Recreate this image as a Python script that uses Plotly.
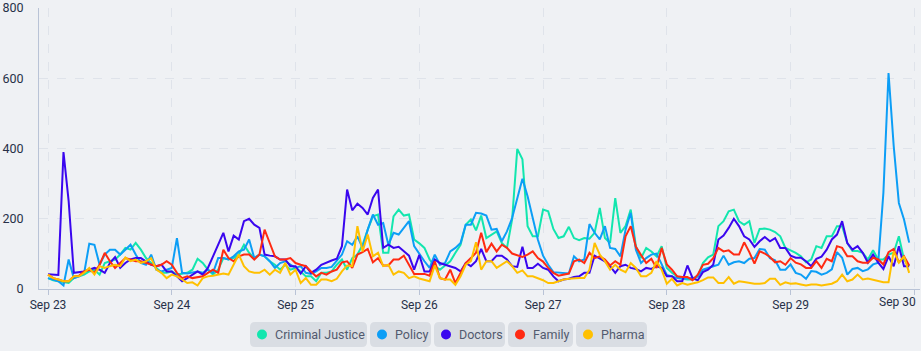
import pandas as pd
import plotly.graph_objects as go

# ---------------- data (hourly, Sep 23 00:00 -> Sep 29 23:00) ----------------
timestamps = pd.date_range("2023-09-23 00:00", periods=168, freq="h")

criminal_justice = [
    31, 25, 22, 19, 17, 31, 36, 41, 50, 55, 41, 74, 79, 84, 98, 117, 112, 131, 112, 88, 74, 60, 46, 46,
    50, 41, 44, 46, 55, 86, 74, 55, 41, 55, 88, 84, 88, 98, 126, 103, 88, 98, 93, 79, 69, 55, 69, 55,
    60, 50, 36, 36, 22, 46, 46, 50, 69, 84, 55, 88, 98, 126, 169, 207, 212, 103, 103, 207, 226, 209, 212, 141,
    130, 117, 84, 65, 55, 67, 79, 103, 126, 183, 198, 167, 209, 145, 155, 164, 131, 117, 198, 399, 369, 179, 150, 150,
    226, 221, 171, 145, 150, 177, 145, 139, 145, 143, 160, 231, 145, 131, 259, 160, 179, 226, 122, 88, 117, 107, 93, 122,
    60, 46, 36, 29, 27, 27, 36, 74, 90, 98, 179, 193, 221, 226, 193, 183, 193, 131, 171, 172, 169, 162, 150, 117,
    110, 103, 93, 76, 84, 122, 117, 150, 150, 179, 179, 131, 108, 108, 103, 84, 110, 84, 84, 98, 103, 150, 84, 65,
]
policy = [
    31, 27, 22, 10, 84, 31, 36, 45, 129, 126, 69, 98, 112, 112, 98, 112, 126, 98, 74, 69, 98, 55, 50, 55,
    60, 145, 46, 44, 46, 50, 46, 55, 46, 88, 88, 84, 93, 107, 112, 141, 88, 98, 93, 79, 60, 74, 79, 69,
    60, 65, 46, 43, 50, 60, 60, 63, 79, 98, 136, 126, 150, 117, 169, 212, 183, 188, 126, 160, 155, 174, 193, 122,
    100, 79, 60, 98, 69, 74, 107, 117, 131, 183, 183, 217, 215, 209, 169, 171, 136, 164, 202, 255, 314, 264, 198, 140,
    95, 69, 48, 46, 46, 44, 93, 79, 84, 185, 160, 141, 179, 117, 114, 93, 169, 217, 112, 74, 88, 98, 101, 69,
    40, 36, 31, 29, 29, 31, 36, 55, 60, 65, 69, 95, 69, 76, 79, 74, 86, 88, 114, 112, 88, 82, 55, 55,
    70, 46, 41, 29, 51, 49, 41, 46, 56, 105, 89, 41, 57, 60, 51, 56, 70, 75, 274, 615, 407, 245, 198, 132,
]
doctors = [
    42, 40, 40, 390, 250, 46, 48, 50, 55, 60, 55, 46, 74, 91, 60, 74, 84, 88, 88, 79, 69, 65, 69, 50,
    50, 36, 22, 31, 41, 50, 41, 60, 93, 126, 160, 107, 152, 141, 193, 200, 183, 174, 98, 95, 93, 84, 84, 65,
    65, 44, 65, 46, 55, 69, 76, 81, 86, 122, 283, 224, 243, 231, 212, 259, 283, 117, 126, 117, 120, 107, 95, 55,
    97, 50, 50, 84, 74, 69, 65, 60, 50, 74, 65, 79, 114, 79, 79, 95, 95, 84, 65, 63, 120, 60, 60, 72,
    60, 55, 36, 22, 27, 29, 34, 36, 46, 46, 95, 88, 79, 65, 46, 65, 69, 60, 57, 50, 60, 57, 65, 60,
    36, 36, 22, 22, 67, 31, 25, 48, 55, 69, 141, 152, 174, 200, 179, 150, 141, 120, 136, 148, 136, 145, 117, 117,
    95, 89, 89, 79, 65, 86, 92, 112, 141, 155, 193, 131, 112, 122, 103, 75, 98, 75, 57, 93, 65, 122, 65, 65,
]
family = [
    41, 31, 27, 22, 22, 36, 38, 50, 55, 46, 69, 103, 79, 60, 74, 88, 84, 79, 79, 74, 69, 65, 69, 79,
    69, 46, 31, 36, 31, 33, 36, 46, 55, 46, 112, 88, 79, 93, 98, 98, 84, 98, 169, 131, 93, 84, 84, 88,
    74, 69, 65, 50, 36, 46, 41, 50, 55, 76, 79, 60, 98, 105, 114, 76, 88, 67, 67, 84, 84, 95, 69, 43,
    43, 43, 38, 79, 31, 27, 55, 17, 46, 74, 88, 103, 160, 105, 129, 107, 126, 117, 101, 95, 91, 98, 107, 88,
    78, 60, 46, 38, 41, 44, 79, 84, 74, 103, 88, 93, 84, 67, 79, 69, 150, 179, 120, 95, 74, 86, 60, 117,
    70, 55, 36, 34, 34, 25, 41, 69, 72, 88, 117, 107, 110, 98, 98, 133, 105, 72, 107, 101, 91, 76, 79, 69,
    88, 75, 70, 60, 60, 79, 60, 86, 79, 122, 117, 93, 93, 79, 75, 75, 89, 84, 70, 105, 114, 75, 93, 67,
]
pharma = [
    41, 31, 27, 22, 22, 36, 36, 46, 60, 41, 65, 60, 65, 69, 65, 90, 79, 84, 74, 79, 88, 55, 46, 31,
    41, 36, 27, 17, 19, 10, 31, 36, 38, 41, 44, 41, 69, 98, 65, 50, 46, 46, 55, 41, 55, 46, 74, 41,
    55, 17, 31, 12, 12, 27, 27, 22, 29, 50, 67, 65, 179, 107, 155, 93, 103, 65, 69, 41, 50, 46, 31, 36,
    30, 27, 22, 67, 31, 27, 27, 12, 36, 69, 79, 133, 55, 79, 79, 60, 69, 79, 65, 46, 53, 36, 36, 31,
    25, 17, 17, 22, 27, 29, 31, 31, 31, 55, 131, 98, 79, 55, 69, 55, 48, 74, 60, 36, 36, 46, 79, 55,
    15, 29, 10, 17, 12, 15, 19, 25, 33, 33, 17, 17, 34, 15, 22, 20, 17, 15, 15, 17, 29, 29, 12, 19,
    15, 16, 13, 10, 13, 13, 10, 12, 15, 22, 41, 22, 27, 41, 27, 30, 27, 22, 19, 19, 108, 75, 93, 46,
]

series_names = ["Criminal Justice", "Policy", "Doctors", "Family", "Pharma"]
series_values = [criminal_justice, policy, doctors, family, pharma]
series_colors = ["#12e6ae", "#0c9ef6", "#3a06ef", "#ff2a12", "#ffc000"]

y_tick_values = [0, 200, 400, 600, 800]
y_tick_labels = ["0", "200", "400", "600", "800"]
x_tick_values = pd.date_range("2023-09-23", periods=8, freq="D")
x_tick_labels = ["Sep 23", "Sep 24", "Sep 25", "Sep 26", "Sep 27", "Sep 28", "Sep 29", "Sep 30"]

# ---------------- figure ----------------
BG = "#eff1f4"
FONT = "Roboto"
TICK_COLOR = "#273048"
fig = go.Figure()
for name, vals, col in zip(series_names, series_values, series_colors):
    fig.add_trace(go.Scatter(x=timestamps, y=vals, name=name, mode="lines",
                             line=dict(color=col, width=2), showlegend=False))

W, H = 921, 351
ML, MR, MT, MB = 39, 1, 8, 62
PW, PH = W - ML - MR, H - MT - MB


def px_to_paper(px, py):
    return (px - ML) / PW, (H - MB - py) / PH


# custom legend: rounded boxes with coloured dots (pixel layout)
legend_boxes = [(250, 367), (370, 431), (434, 505), (508, 573), (576, 647)]
box_top, box_bot, r = 322, 347, 5
shapes, annotations = [], []
for (bx0, bx1), name, col in zip(legend_boxes, series_names, series_colors):
    x0, y1 = px_to_paper(bx0, box_top)
    x1, y0 = px_to_paper(bx1, box_bot)
    rx, ry = r / PW, r / PH
    path = (f"M {x0+rx},{y0} L {x1-rx},{y0} Q {x1},{y0} {x1},{y0+ry} "
            f"L {x1},{y1-ry} Q {x1},{y1} {x1-rx},{y1} L {x0+rx},{y1} "
            f"Q {x0},{y1} {x0},{y1-ry} L {x0},{y0+ry} Q {x0},{y0} {x0+rx},{y0} Z")
    shapes.append(dict(type="path", path=path, xref="paper", yref="paper",
                       fillcolor="#d9dde3", line=dict(width=0), layer="below"))
    cx, cy = px_to_paper(bx0 + 12, (box_top + box_bot) / 2)
    shapes.append(dict(type="circle", xref="paper", yref="paper",
                       xsizemode="pixel", ysizemode="pixel", xanchor=cx, yanchor=cy,
                       x0=-5, x1=5, y0=-5, y1=5, fillcolor=col, line=dict(width=0)))
    tx, ty = px_to_paper(bx0 + 23, (box_top + box_bot) / 2)
    annotations.append(dict(text=name, x=tx, y=ty, xref="paper", yref="paper",
                            xanchor="left", yanchor="middle", showarrow=False,
                            font=dict(family=FONT, size=12.5, color="#525a6e")))

# last x tick label is pulled inside the chart edge (as in the reference)
lx, ly = px_to_paper(918, 302)
annotations.append(dict(text=x_tick_labels[-1], x=lx, y=ly, xref="paper", yref="paper",
                        xanchor="right", yanchor="middle", showarrow=False,
                        font=dict(family=FONT, size=12, color=TICK_COLOR)))
shown_x_labels = x_tick_labels[:-1] + [""]

fig.update_layout(
    width=W, height=H,
    margin=dict(l=ML, r=MR, t=MT, b=MB, pad=0),
    paper_bgcolor=BG, plot_bgcolor=BG,
    font=dict(family=FONT, size=12, color=TICK_COLOR),
    showlegend=False,
    shapes=shapes, annotations=annotations,
    xaxis=dict(
        type="date",
        range=["2023-09-22 22:15", "2023-09-30 01:06"],
        tickvals=x_tick_values, ticktext=shown_x_labels,
        showgrid=True, gridcolor="#dfe3ea", griddash="dash", gridwidth=1,
        showline=True, linecolor="#b9c3d6", linewidth=1,
        ticks="outside", ticklen=5, tickcolor="#b9c3d6",
        tickfont=dict(family=FONT, size=12, color=TICK_COLOR),
        zeroline=False, fixedrange=True,
    ),
    yaxis=dict(
        range=[0, 800], tickvals=y_tick_values, ticktext=y_tick_labels,
        showgrid=True, gridcolor="#dfe3ea", griddash="dash", gridwidth=1,
        showline=True, linecolor="#b9c3d6", linewidth=1,
        ticks="", ticklabelstandoff=12,
        tickfont=dict(family=FONT, size=12.5, color=TICK_COLOR),
        zeroline=False, fixedrange=True,
    ),
)

fig.write_html("out.html")
